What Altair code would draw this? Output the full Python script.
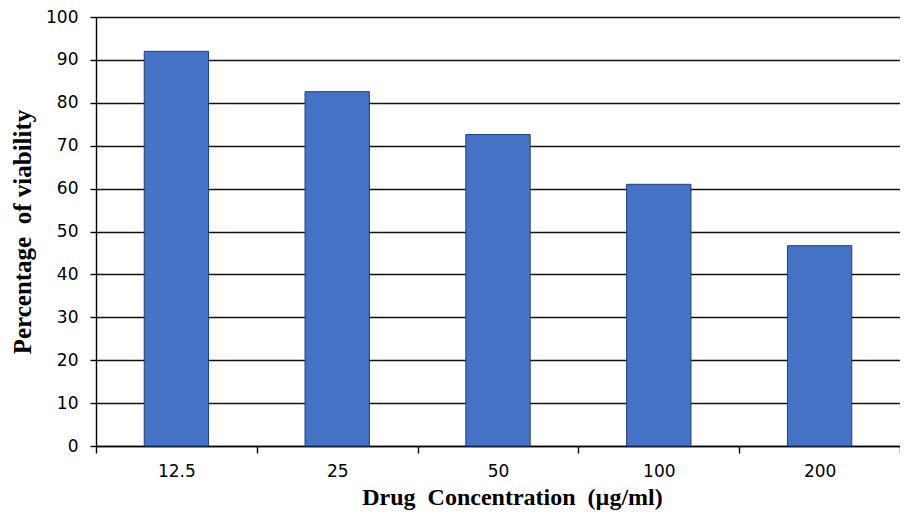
import altair as alt
import pandas as pd

concentrations = ["12.5", "25", "50", "100", "200"]
viability = [92, 82.6, 72.6, 61, 46.7]

df = pd.DataFrame({"conc": concentrations, "viab": viability})

chart = alt.Chart(df).mark_bar(
    color="#4472C4", stroke="#1F3F7A", strokeWidth=1, width={"band": 0.4}
).encode(
    x=alt.X("conc:N", sort=concentrations,
            scale=alt.Scale(paddingInner=0, paddingOuter=0),
            axis=alt.Axis(title="Drug\u00a0 Concentration\u00a0 (µg/ml)", labelAngle=0,
                          tickBand="extent", tickSize=7, tickColor="#000",
                          domainColor="#000", labelFont="DejaVu Sans", labelFontSize=17,
                          labelColor="#000", labelPadding=10,
                          titleFont="Liberation Serif", titleFontSize=24, titleFontWeight="bold",
                          titleColor="#000", titlePadding=6, titleX=416, titleAlign="center")),
    y=alt.Y("viab:Q", scale=alt.Scale(domain=[0, 100]),
            axis=alt.Axis(title="Percentage\u00a0 of viability", values=list(range(0, 101, 10)),
                          tickSize=6, tickColor="#000", domainColor="#000",
                          gridColor="#111", gridWidth=1.4, gridOpacity=1,
                          labelFont="DejaVu Sans", labelFontSize=17, labelColor="#000",
                          labelPadding=12,
                          titleFont="Liberation Serif", titleFontSize=25, titleFontWeight="bold",
                          titleColor="#000", titlePadding=10)),
).properties(
    width=804, height=429,
    autosize=alt.AutoSizeParams(type="none"),
    padding={"left": 88, "top": 9, "right": 0, "bottom": 75},
).configure_view(stroke=None).configure_axis(domainWidth=1.4, tickWidth=1.4)

chart.save("out.html", embed_options={"renderer": "svg", "actions": False})
